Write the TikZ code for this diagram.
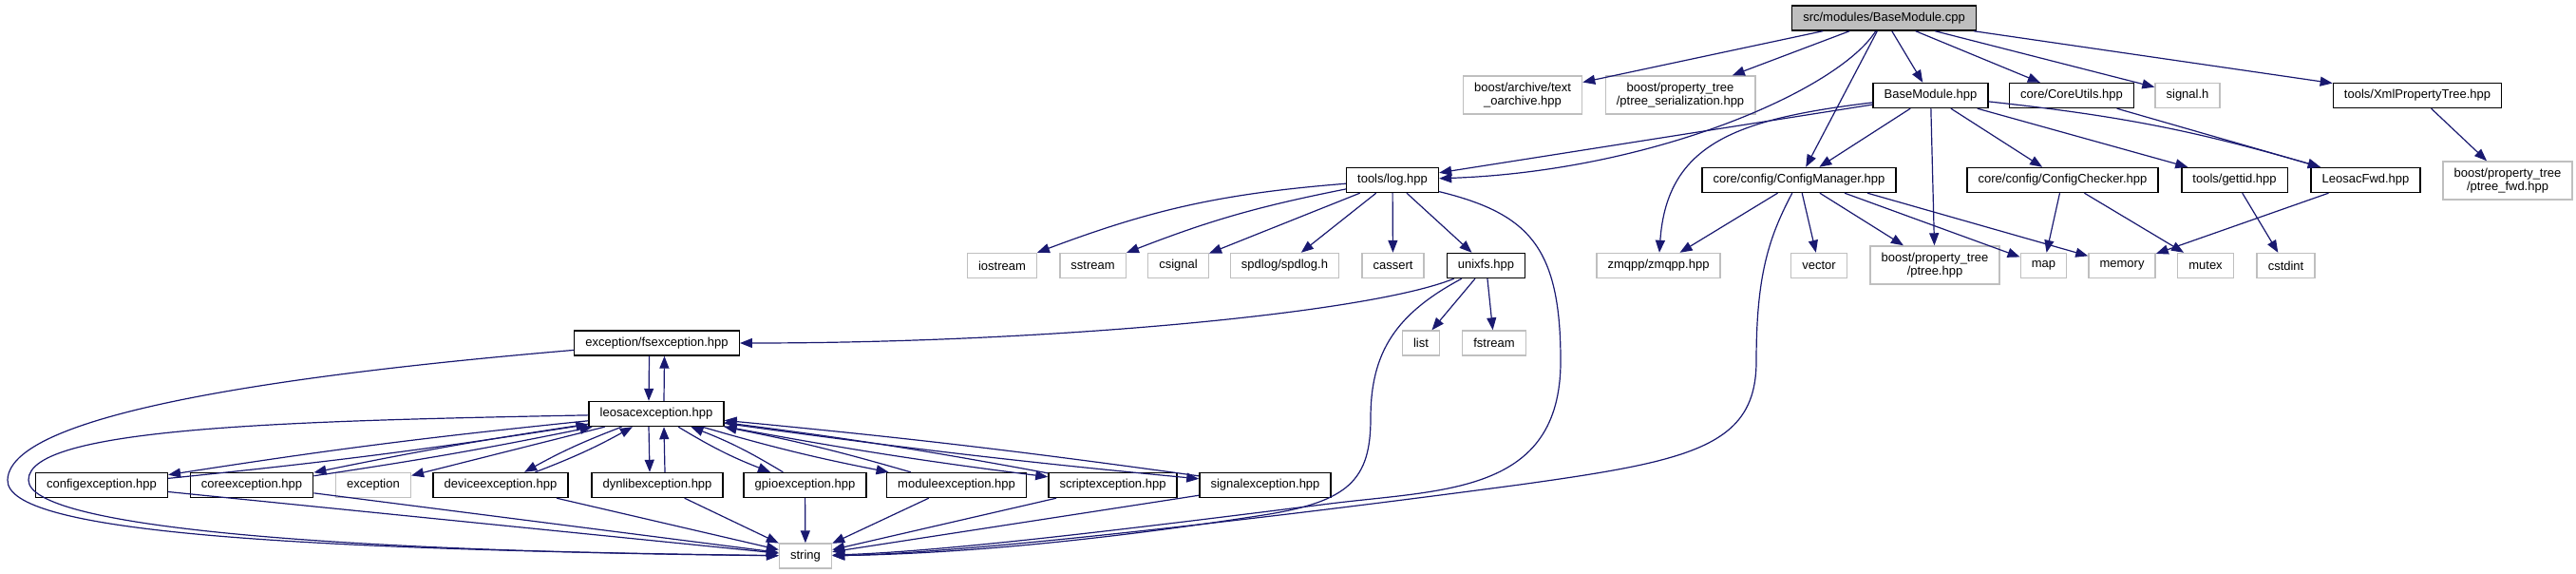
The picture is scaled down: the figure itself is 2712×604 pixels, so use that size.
\documentclass[tikz,border=0pt]{standalone}
\usepackage{fontspec}
\setmainfont{Liberation Sans}
\usetikzlibrary{arrows.meta,calc}
\definecolor{dxblue}{RGB}{25,25,112}
\definecolor{dxgray}{RGB}{191,191,191}

\begin{document}
\begin{tikzpicture}[x=0.5pt,y=0.5pt,>={Triangle[length=6.5pt,width=5pt]},
    font=\fontsize{6.5}{7.2}\selectfont,
    hdr/.style={draw=black,line width=0.7pt,fill=white,inner xsep=5.8pt,inner ysep=0pt,minimum height=13pt,align=center},
    sys/.style={hdr,draw=dxgray},
    dep/.style={->,draw=dxblue,line width=0.6pt}]
    \useasboundingbox (0,0) rectangle (2712,-604);
    % files
    \node[hdr,fill=dxgray] (top) at (1983.5,-19) {src/modules/BaseModule.cpp};
    \node[sys,minimum height=20pt] (archive) at (1603,-100) {boost/archive/text\\\_oarchive.hpp};
    \node[sys,minimum height=20pt] (ptreeser) at (1769,-100) {boost/property\_tree\\/ptree\_serialization.hpp};
    \node[hdr] (basehpp) at (2032.5,-100.5) {BaseModule.hpp};
    \node[hdr] (coreutils) at (2181,-100.5) {core/CoreUtils.hpp};
    \node[sys] (signalh) at (2303,-100.5) {signal.h};
    \node[hdr] (xmlptree) at (2545,-100.5) {tools/XmlPropertyTree.hpp};
    \node[hdr] (log) at (1466,-189.5) {tools/log.hpp};
    \node[hdr] (cfgmgr) at (1894,-189.5) {core/config/ConfigManager.hpp};
    \node[hdr] (cfgchk) at (2171.5,-189.5) {core/config/ConfigChecker.hpp};
    \node[hdr] (gettid) at (2352.5,-189.5) {tools/gettid.hpp};
    \node[hdr] (leosacfwd) at (2490.5,-189.5) {LeosacFwd.hpp};
    \node[sys,minimum height=20pt] (ptreefwd) at (2640,-190) {boost/property\_tree\\/ptree\_fwd.hpp};
    \node[sys] (iostream) at (1055,-279.5) {iostream};
    \node[sys] (sstream) at (1150.5,-279.5) {sstream};
    \node[sys] (csignal) at (1240.5,-279.5) {csignal};
    \node[sys] (spdlog) at (1352.5,-279.5) {spdlog/spdlog.h};
    \node[sys] (cassert) at (1466.5,-279.5) {cassert};
    \node[hdr] (unixfs) at (1564.5,-279.5) {unixfs.hpp};
    \node[sys] (zmqpp) at (1746,-279.5) {zmqpp/zmqpp.hpp};
    \node[sys] (vector) at (1915,-279.5) {vector};
    \node[sys,minimum height=20pt] (ptree) at (2037,-279) {boost/property\_tree\\/ptree.hpp};
    \node[sys] (map) at (2151.5,-279.5) {map};
    \node[sys] (memory) at (2234,-279.5) {memory};
    \node[sys] (mutex) at (2322,-279.5) {mutex};
    \node[sys] (cstdint) at (2406.5,-279.5) {cstdint};
    \node[hdr] (fsexc) at (691.5,-361) {exception/fsexception.hpp};
    \node[sys] (list) at (1496,-361) {list};
    \node[sys] (fstream) at (1573,-361) {fstream};
    \node[hdr] (leosac) at (691,-435.5) {leosacexception.hpp};
    \node[hdr] (configexc) at (107,-510.5) {configexception.hpp};
    \node[hdr] (coreexc) at (265,-510.5) {coreexception.hpp};
    \node[sys] (exception) at (393,-510.5) {exception};
    \node[hdr] (deviceexc) at (527,-510.5) {deviceexception.hpp};
    \node[hdr] (dynlibexc) at (692,-510.5) {dynlibexception.hpp};
    \node[hdr] (gpioexc) at (847.5,-510.5) {gpioexception.hpp};
    \node[hdr] (moduleexc) at (1007,-510.5) {moduleexception.hpp};
    \node[hdr] (scriptexc) at (1171.5,-510.5) {scriptexception.hpp};
    \node[hdr] (signalexc) at (1332,-510.5) {signalexception.hpp};
    \node[sys] (string) at (848,-585) {string};
    % BaseModule.cpp
    \draw[dep] (top) -- (archive);
    \draw[dep] (top) -- (ptreeser);
    \draw[dep] (top) .. controls (1935,-95) and (1740,-180) .. (log);
    \draw[dep] (top) -- (cfgmgr);
    \draw[dep] (top) -- (basehpp);
    \draw[dep] (top) -- (coreutils);
    \draw[dep] (top) -- (signalh);
    \draw[dep] (top) -- (xmlptree);
    % BaseModule.hpp
    \draw[dep] (basehpp) -- (log);
    \draw[dep] (basehpp) .. controls (1830,-125) and (1755,-150) .. (zmqpp);
    \draw[dep] (basehpp) -- (cfgmgr);
    \draw[dep] (basehpp) -- (ptree);
    \draw[dep] (basehpp) -- (cfgchk);
    \draw[dep] (basehpp) -- (gettid);
    \draw[dep] (basehpp) to[bend left=5] (leosacfwd);
    \draw[dep] (coreutils) -- (leosacfwd);
    \draw[dep] (xmlptree) -- (ptreefwd);
    % ConfigManager.hpp and friends
    \draw[dep] (cfgmgr) -- (zmqpp);
    \draw[dep] (cfgmgr) -- (vector);
    \draw[dep] (cfgmgr) -- (ptree);
    \draw[dep] ($(cfgmgr.south)+(48,0)$) -- (map);
    \draw[dep] ($(cfgmgr.south)+(72,0)$) -- (memory);
    \draw[dep] (cfgmgr) .. controls (1862,-250) and (1849,-290) .. (1849,-380)
        .. controls (1849,-470) and (1780,-485) .. (1600,-510)
        .. controls (1300,-550) and (1000,-583) .. (string);
    \draw[dep] (cfgchk) -- (map);
    \draw[dep] (cfgchk) -- (mutex);
    \draw[dep] (gettid) -- (cstdint);
    \draw[dep] (leosacfwd) -- (memory);
    % tools/log.hpp
    \draw[dep] (log) to[bend right=8] (iostream);
    \draw[dep] (log) to[bend right=5] (sstream);
    \draw[dep] (log) -- (csignal);
    \draw[dep] (log) -- (spdlog);
    \draw[dep] (log) -- (cassert);
    \draw[dep] (log) -- (unixfs);
    \draw[dep] (log) .. controls (1610,-225) and (1643,-260) .. (1643,-380)
        .. controls (1643,-520) and (1520,-515) .. (1400,-530)
        .. controls (1200,-555) and (1000,-580) .. (string);
    % unixfs.hpp
    \draw[dep] (unixfs) .. controls (1440,-330) and (1100,-361) .. (fsexc);
    \draw[dep] (unixfs) -- (list);
    \draw[dep] (unixfs) -- (fstream);
    \draw[dep] (unixfs) .. controls (1470,-330) and (1443,-370) .. (1443,-440)
        .. controls (1443,-505) and (1420,-528) .. (1330,-542)
        .. controls (1150,-570) and (1000,-583) .. (string);
    % exceptions
    \draw[dep] ($(fsexc.south)+(-8,0)$) -- ($(leosac.north)+(-8,0)$);
    \draw[dep] ($(leosac.north)+(8,0)$) -- ($(fsexc.south)+(8,0)$);
    \draw[dep] (fsexc) .. controls (350,-390) and (10,-430) .. (8,-505)
        .. controls (6,-560) and (300,-578) .. (string);
    \draw[dep] (leosac) .. controls (300,-443) and (30,-450) .. (30,-505)
        .. controls (30,-555) and (350,-580) .. (string);
    \draw[dep] (leosac) -- (exception);
    \draw[dep] ($(leosac.south)+(-8,0)$) -- ($(dynlibexc.north)+(-8,0)$);
    \draw[dep] ($(dynlibexc.north)+(8,0)$) -- ($(leosac.south)+(8,0)$);
    \draw[dep] (dynlibexc) -- (string);
    \foreach \e/\b in {configexc/1.5,coreexc/1.5,deviceexc/4,gpioexc/5,moduleexc/2.5,scriptexc/1.6,signalexc/1.2} {
      \draw[dep] (leosac) to[bend right=\b] (\e);
      \draw[dep] (\e) to[bend right=\b] (leosac);
      \draw[dep] (\e) -- (string);
    }
  \end{tikzpicture}
\end{document}
